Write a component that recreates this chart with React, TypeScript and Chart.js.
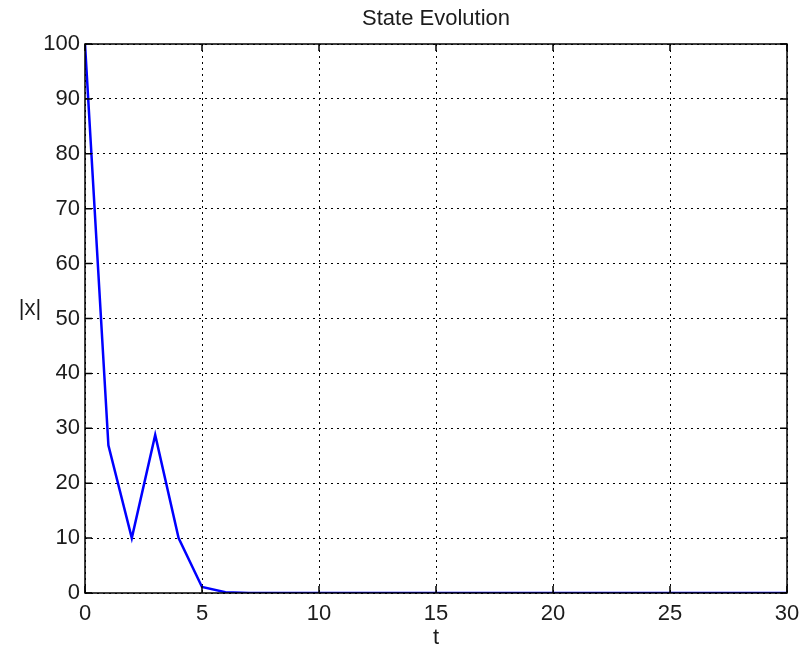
import React, { useEffect, useRef } from "react";
import { Chart, registerables } from "chart.js";

Chart.register(...registerables);

// Time steps and the norm of the state at each step
const timeSteps = [
  0, 1, 2, 3, 4, 5, 6, 7, 8, 9, 10, 11, 12, 13, 14, 15,
  16, 17, 18, 19, 20, 21, 22, 23, 24, 25, 26, 27, 28, 29, 30,
];
const stateNorm = [
  100, 26.9, 10, 28.8, 10, 1.1, 0.15, 0.02, 0, 0, 0, 0, 0, 0, 0, 0,
  0, 0, 0, 0, 0, 0, 0, 0, 0, 0, 0, 0, 0, 0, 0,
];
const xTicks = [0, 5, 10, 15, 20, 25, 30];
const yTicks = [0, 10, 20, 30, 40, 50, 60, 70, 80, 90, 100];

const titleText = "State Evolution";
const xLabel = "t";
const yLabel = "|x|";

const FONT = "'Liberation Sans', Arial, Helvetica, sans-serif";
const TEXT_COLOR = "#1c1c1c";

// Draws the boxed axes, inward ticks on all four sides, title and axis labels
const frameDecor = {
  id: "frameDecor",
  afterDatasetsDraw(chart: any) {
    const { ctx, chartArea, scales } = chart;
    const { left, right, top, bottom } = chartArea;
    const tickLen = 7;
    ctx.save();
    ctx.strokeStyle = "#000";
    ctx.lineWidth = 1.5;
    ctx.setLineDash([]);
    ctx.beginPath();
    for (const v of xTicks) {
      const px = scales.x.getPixelForValue(v);
      ctx.moveTo(px, bottom);
      ctx.lineTo(px, bottom - tickLen);
      ctx.moveTo(px, top);
      ctx.lineTo(px, top + tickLen);
    }
    for (const v of yTicks) {
      const py = scales.y.getPixelForValue(v);
      ctx.moveTo(left, py);
      ctx.lineTo(left + tickLen, py);
      ctx.moveTo(right, py);
      ctx.lineTo(right - tickLen, py);
    }
    ctx.stroke();
    ctx.strokeRect(left, top, right - left, bottom - top);

    ctx.fillStyle = TEXT_COLOR;
    ctx.font = `22px ${FONT}`;
    ctx.textAlign = "center";
    ctx.textBaseline = "alphabetic";
    ctx.fillText(titleText, (left + right) / 2, top - 19);

    ctx.textBaseline = "middle";
    ctx.fillText(xLabel, (left + right) / 2, bottom + 45);
    ctx.fillText(yLabel, left - 55, (top + bottom) / 2 - 10);
    ctx.restore();
  },
};

export default function App() {
  const canvasRef = useRef<HTMLCanvasElement | null>(null);

  useEffect(() => {
    const canvas = canvasRef.current;
    if (!canvas) return;
    const chart = new Chart(canvas, {
      type: "line",
      data: {
        datasets: [
          {
            data: timeSteps.map((t, i) => ({ x: t, y: stateNorm[i] })),
            borderColor: "#0000ff",
            borderWidth: 2.5,
            pointRadius: 0,
            tension: 0,
            fill: false,
          },
        ],
      },
      options: {
        animation: false,
        responsive: false,
        maintainAspectRatio: false,
        layout: { padding: { top: 44, right: 23, left: 0, bottom: 0 } },
        plugins: {
          legend: { display: false },
          title: { display: false },
          tooltip: { enabled: false },
        },
        scales: {
          x: {
            type: "linear",
            min: 0,
            max: 30,
            afterFit(scale: any) {
              scale.height = 59;
            },
            afterBuildTicks(scale: any) {
              scale.ticks = xTicks.map((v) => ({ value: v }));
            },
            grid: {
              color: "#000",
              lineWidth: 1,
              drawTicks: false,
            },
            border: { display: false, dash: [2, 4] },
            ticks: {
              color: TEXT_COLOR,
              font: { family: FONT, size: 22 },
              padding: 8,
              maxRotation: 0,
            },
          },
          y: {
            type: "linear",
            min: 0,
            max: 100,
            afterFit(scale: any) {
              scale.width = 85;
            },
            afterBuildTicks(scale: any) {
              scale.ticks = yTicks.map((v) => ({ value: v }));
            },
            grid: {
              color: "#000",
              lineWidth: 1,
              drawTicks: false,
            },
            border: { display: false, dash: [2, 4] },
            ticks: {
              color: TEXT_COLOR,
              font: { family: FONT, size: 22 },
              padding: 5,
            },
          },
        },
      },
      plugins: [frameDecor],
    } as any);
    return () => chart.destroy();
  }, []);

  return (
    <div style={{ position: "fixed", left: 0, top: 0, width: 810, height: 652, background: "#fff" }}>
      <canvas ref={canvasRef} width={810} height={652} style={{ display: "block" }} />
    </div>
  );
}
